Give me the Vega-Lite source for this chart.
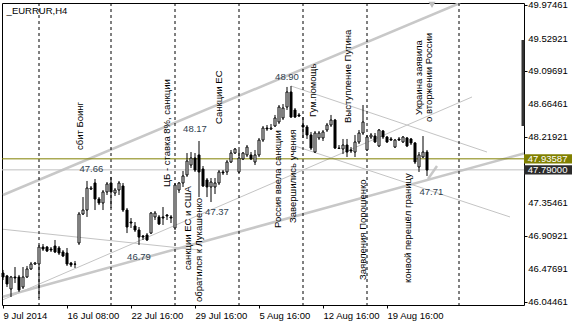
{
  "$schema": "https://vega.github.io/schema/vega-lite/v6.json",
  "width": 522,
  "height": 302,
  "autosize": {"type": "none"},
  "padding": {"left": 2, "top": 3, "right": 48, "bottom": 20},
  "background": "white",
  "config": {
    "view": {"stroke": "#000000", "strokeWidth": 1},
    "font": "Liberation Sans",
    "axis": {"grid": false, "domain": false, "tickColor": "#000000", "tickSize": 3, "labelColor": "#000000", "labelFont": "Liberation Sans", "labelFontSize": 9.5}
  },
  "datasets": {
    "candles": [
      {"i":0,"o":46.424,"h":46.464,"l":46.331,"c":46.371},
      {"i":1,"o":46.385,"h":46.398,"l":46.238,"c":46.278},
      {"i":2,"o":46.212,"h":46.385,"l":46.106,"c":46.371},
      {"i":3,"o":46.371,"h":46.503,"l":46.291,"c":46.358},
      {"i":4,"o":46.371,"h":46.398,"l":46.173,"c":46.199},
      {"i":5,"o":46.238,"h":46.503,"l":46.212,"c":46.371},
      {"i":6,"o":46.371,"h":46.517,"l":46.358,"c":46.477},
      {"i":7,"o":46.477,"h":46.570,"l":46.464,"c":46.543},
      {"i":8,"o":46.543,"h":46.570,"l":46.530,"c":46.556},
      {"i":9,"o":46.543,"h":46.795,"l":46.093,"c":46.768},
      {"i":10,"o":46.768,"h":46.808,"l":46.715,"c":46.741},
      {"i":11,"o":46.768,"h":46.781,"l":46.702,"c":46.715},
      {"i":12,"o":46.741,"h":46.768,"l":46.702,"c":46.728},
      {"i":13,"o":46.781,"h":46.861,"l":46.688,"c":46.702},
      {"i":14,"o":46.755,"h":46.781,"l":46.662,"c":46.688},
      {"i":15,"o":46.702,"h":46.728,"l":46.635,"c":46.649},
      {"i":16,"o":46.688,"h":46.755,"l":46.517,"c":46.543},
      {"i":17,"o":46.556,"h":46.570,"l":46.503,"c":46.530},
      {"i":18,"o":46.543,"h":46.583,"l":46.490,"c":46.540},
      {"i":19,"o":46.821,"h":47.232,"l":46.795,"c":47.205},
      {"i":20,"o":47.205,"h":47.430,"l":47.192,"c":47.258},
      {"i":21,"o":47.258,"h":47.643,"l":47.166,"c":47.549},
      {"i":22,"o":47.536,"h":47.576,"l":47.523,"c":47.549},
      {"i":23,"o":47.616,"h":47.669,"l":47.258,"c":47.404},
      {"i":24,"o":47.404,"h":47.430,"l":47.324,"c":47.351},
      {"i":25,"o":47.351,"h":47.523,"l":47.258,"c":47.497},
      {"i":26,"o":47.497,"h":47.629,"l":47.457,"c":47.603},
      {"i":27,"o":47.616,"h":47.696,"l":47.285,"c":47.497},
      {"i":28,"o":47.483,"h":47.549,"l":47.444,"c":47.523},
      {"i":29,"o":47.523,"h":47.643,"l":47.457,"c":47.616},
      {"i":30,"o":47.576,"h":47.616,"l":47.232,"c":47.258},
      {"i":31,"o":47.258,"h":47.285,"l":46.953,"c":47.033},
      {"i":32,"o":47.099,"h":47.152,"l":47.020,"c":47.086},
      {"i":33,"o":47.046,"h":47.099,"l":46.967,"c":46.993},
      {"i":34,"o":46.993,"h":47.033,"l":46.795,"c":46.900},
      {"i":35,"o":46.914,"h":46.927,"l":46.861,"c":46.900},
      {"i":36,"o":46.927,"h":46.953,"l":46.848,"c":46.861},
      {"i":37,"o":46.953,"h":47.232,"l":46.940,"c":47.218},
      {"i":38,"o":47.166,"h":47.245,"l":47.126,"c":47.218},
      {"i":39,"o":47.166,"h":47.192,"l":47.060,"c":47.073},
      {"i":40,"o":47.166,"h":47.298,"l":47.060,"c":47.152},
      {"i":41,"o":47.192,"h":47.205,"l":47.126,"c":47.179},
      {"i":42,"o":47.166,"h":47.192,"l":47.086,"c":47.152},
      {"i":43,"o":47.020,"h":47.616,"l":46.993,"c":47.589},
      {"i":44,"o":47.523,"h":47.629,"l":47.483,"c":47.616},
      {"i":45,"o":47.616,"h":47.775,"l":47.563,"c":47.709},
      {"i":46,"o":47.722,"h":48.013,"l":47.696,"c":47.907},
      {"i":47,"o":47.854,"h":48.026,"l":47.815,"c":47.947},
      {"i":48,"o":47.947,"h":48.013,"l":47.762,"c":47.788},
      {"i":49,"o":47.987,"h":48.172,"l":47.430,"c":47.762},
      {"i":50,"o":47.801,"h":47.841,"l":47.563,"c":47.576},
      {"i":51,"o":47.656,"h":47.682,"l":47.430,"c":47.563},
      {"i":52,"o":47.563,"h":47.682,"l":47.364,"c":47.629},
      {"i":53,"o":47.563,"h":47.682,"l":47.470,"c":47.616},
      {"i":54,"o":47.616,"h":47.788,"l":47.589,"c":47.762},
      {"i":55,"o":47.762,"h":47.788,"l":47.722,"c":47.749},
      {"i":56,"o":47.762,"h":47.920,"l":47.722,"c":47.894},
      {"i":57,"o":47.894,"h":48.053,"l":47.881,"c":48.013},
      {"i":58,"o":48.013,"h":48.079,"l":48.000,"c":48.066},
      {"i":59,"o":47.762,"h":48.053,"l":47.749,"c":47.947},
      {"i":60,"o":47.934,"h":48.026,"l":47.920,"c":48.013},
      {"i":61,"o":47.987,"h":48.119,"l":47.960,"c":48.092},
      {"i":62,"o":47.987,"h":48.026,"l":47.920,"c":47.934},
      {"i":63,"o":47.894,"h":48.053,"l":47.854,"c":47.987},
      {"i":64,"o":47.987,"h":48.212,"l":47.960,"c":48.185},
      {"i":65,"o":48.185,"h":48.371,"l":48.159,"c":48.344},
      {"i":66,"o":48.344,"h":48.384,"l":48.305,"c":48.331},
      {"i":67,"o":48.331,"h":48.397,"l":48.318,"c":48.344},
      {"i":68,"o":48.371,"h":48.517,"l":48.358,"c":48.477},
      {"i":69,"o":48.424,"h":48.649,"l":48.397,"c":48.622},
      {"i":70,"o":48.477,"h":48.662,"l":48.450,"c":48.609},
      {"i":71,"o":48.622,"h":48.888,"l":48.583,"c":48.821},
      {"i":72,"o":48.821,"h":48.901,"l":48.477,"c":48.490},
      {"i":73,"o":48.583,"h":48.609,"l":48.477,"c":48.490},
      {"i":74,"o":48.517,"h":48.543,"l":48.490,"c":48.503},
      {"i":75,"o":48.384,"h":48.490,"l":48.212,"c":48.358},
      {"i":76,"o":48.358,"h":48.384,"l":48.199,"c":48.252},
      {"i":77,"o":48.252,"h":48.292,"l":48.053,"c":48.079},
      {"i":78,"o":48.026,"h":48.305,"l":48.013,"c":48.278},
      {"i":79,"o":48.212,"h":48.305,"l":48.185,"c":48.278},
      {"i":80,"o":48.212,"h":48.318,"l":48.172,"c":48.292},
      {"i":81,"o":48.318,"h":48.411,"l":48.292,"c":48.384},
      {"i":82,"o":48.384,"h":48.517,"l":48.358,"c":48.450},
      {"i":83,"o":48.450,"h":48.464,"l":48.066,"c":48.079},
      {"i":84,"o":48.079,"h":48.119,"l":48.066,"c":48.073},
      {"i":85,"o":48.066,"h":48.199,"l":48.000,"c":48.119},
      {"i":86,"o":48.119,"h":48.199,"l":47.960,"c":48.026},
      {"i":87,"o":48.053,"h":48.092,"l":48.013,"c":48.040},
      {"i":88,"o":48.026,"h":48.252,"l":47.960,"c":48.159},
      {"i":89,"o":48.159,"h":48.318,"l":48.132,"c":48.278},
      {"i":90,"o":48.278,"h":48.649,"l":48.252,"c":48.424},
      {"i":91,"o":48.053,"h":48.252,"l":48.040,"c":48.225},
      {"i":92,"o":48.225,"h":48.278,"l":48.199,"c":48.252},
      {"i":93,"o":48.238,"h":48.278,"l":48.146,"c":48.159},
      {"i":94,"o":48.106,"h":48.331,"l":48.092,"c":48.318},
      {"i":95,"o":48.305,"h":48.318,"l":48.199,"c":48.225},
      {"i":96,"o":48.225,"h":48.238,"l":48.146,"c":48.159},
      {"i":97,"o":48.199,"h":48.225,"l":48.172,"c":48.185},
      {"i":98,"o":48.092,"h":48.199,"l":48.079,"c":48.185},
      {"i":99,"o":48.199,"h":48.225,"l":48.172,"c":48.185},
      {"i":100,"o":48.159,"h":48.238,"l":48.146,"c":48.225},
      {"i":101,"o":48.212,"h":48.225,"l":48.092,"c":48.106},
      {"i":102,"o":48.199,"h":48.212,"l":48.119,"c":48.146},
      {"i":103,"o":48.146,"h":48.159,"l":47.867,"c":47.894},
      {"i":104,"o":47.828,"h":48.026,"l":47.762,"c":47.987},
      {"i":105,"o":47.960,"h":48.238,"l":47.947,"c":48.026},
      {"i":106,"o":48.026,"h":48.053,"l":47.709,"c":47.788}
    ],
    "thick": [
      {"g":"u","i":0,"v":47.457},{"g":"u","i":114.25,"v":50.0},
      {"g":"d","i":0,"v":46.110},{"g":"d","i":130.25,"v":48.008},
      {"g":"a","i":108.5,"v":47.841},{"g":"a","i":106.25,"v":47.669}
    ],
    "thin": [
      {"g":"A","i":0,"v":47.003},{"g":"A","i":49.25,"v":46.728},
      {"g":"B","i":0,"v":46.070},{"g":"B","i":117.25,"v":48.755},
      {"g":"C","i":72,"v":48.901},{"g":"C","i":121,"v":48.026},
      {"g":"D","i":73,"v":48.106},{"g":"D","i":126.75,"v":47.166}
    ],
    "vtext": [
      {"i":19.25,"v":48.053,"t":"сбит Боинг"},
      {"i":41,"v":47.563,"t":"ЦБ - ставка 8%, санкции"},
      {"i":54,"v":48.397,"t":"Санкции ЕС"},
      {"i":77.4,"v":48.490,"t":"Гум.помощь"},
      {"i":86.2,"v":48.411,"t":"Выступление Путина"},
      {"i":104,"v":48.517,"t":"Украина заявила"},
      {"i":106.5,"v":48.424,"t":"о вторжении России"},
      {"i":46.25,"v":46.464,"t":"санкции ЕС и США"},
      {"i":68.75,"v":47.020,"t":"Россия ввела санкции"},
      {"i":72.5,"v":47.086,"t":"Завершились учения"},
      {"i":90,"v":46.331,"t":"Заявления Порошенко"},
      {"i":101.25,"v":46.291,"t":"конвой перешёл границу"}
    ],
    "plabels": [
      {"i":22.1,"v":47.801,"t":"47.66"},
      {"i":48,"v":48.331,"t":"48.17"},
      {"i":71,"v":49.020,"t":"48.90"},
      {"i":34,"v":46.636,"t":"46.79"},
      {"i":53.5,"v":47.232,"t":"47.37"},
      {"i":107.1,"v":47.497,"t":"47.71"}
    ],
    "ylabels": [
      {"i":131.3,"v":49.97461,"t":"49.97461"},
      {"i":131.3,"v":49.52921,"t":"49.52921"},
      {"i":131.3,"v":49.09691,"t":"49.09691"},
      {"i":131.3,"v":48.66461,"t":"48.66461"},
      {"i":131.3,"v":48.21921,"t":"48.21921"},
      {"i":131.3,"v":47.35461,"t":"47.35461"},
      {"i":131.3,"v":46.90921,"t":"46.90921"},
      {"i":131.3,"v":46.47691,"t":"46.47691"},
      {"i":131.3,"v":46.04461,"t":"46.04461"}
    ]
  },
  "layer": [
    {
      "data": {"name": "thick"},
      "mark": {"type": "line", "clip": true, "color": "#c8c8c8", "strokeWidth": 2.5},
      "encoding": {
        "x": {"field": "i", "type": "quantitative", "title": null,
              "scale": {"domain": [-0.25, 130.25], "nice": false, "zero": false, "padding": 0},
              "axis": {"orient": "bottom", "values": [0, 16, 32, 48, 64, 80, 96], "labelAlign": "left", "labelFlush": false, "labelOverlap": false, "labelBound": false, "labelPadding": 2, "labelBaseline": "top",
                       "labelExpr": "datum.value==0?'9 Jul 2014':datum.value==16?'16 Jul 08:00':datum.value==32?'22 Jul 16:00':datum.value==48?'29 Jul 16:00':datum.value==64?'5 Aug 16:00':datum.value==80?'12 Aug 16:00':'19 Aug 16:00'"}},
        "y": {"field": "v", "type": "quantitative", "title": null,
              "scale": {"domain": [46.0, 50.0], "nice": false, "zero": false, "padding": 0},
              "axis": {"orient": "right", "values": [49.97461, 49.52921, 49.09691, 48.66461, 48.21921, 47.35461, 46.90921, 46.47691, 46.04461], "labels": false}},
        "detail": {"field": "g"}
      }
    },
    {
      "data": {"name": "thin"},
      "mark": {"type": "line", "clip": true, "color": "#c4c4c4", "strokeWidth": 1},
      "encoding": {
        "x": {"field": "i", "type": "quantitative", "title": null},
        "y": {"field": "v", "type": "quantitative", "title": null},
        "detail": {"field": "g"}
      }
    },
    {
      "data": {"values": [{"i": 9}, {"i": 27}, {"i": 43}, {"i": 59}, {"i": 75}, {"i": 91}, {"i": 114}]},
      "mark": {"type": "rule", "color": "#000000", "strokeWidth": 1, "strokeDash": [3, 3]},
      "encoding": {"x": {"field": "i", "type": "quantitative", "title": null}}
    },
    {
      "data": {"values": [{"v": 47.93587}]},
      "mark": {"type": "rule", "color": "#808000", "strokeWidth": 1},
      "encoding": {"y": {"field": "v", "type": "quantitative", "title": null}}
    },
    {
      "data": {"values": [{"v": 47.79}]},
      "mark": {"type": "rule", "color": "#c0c0c0", "strokeWidth": 1},
      "encoding": {"y": {"field": "v", "type": "quantitative", "title": null}}
    },
    {
      "data": {"name": "candles"},
      "mark": {"type": "rule", "color": "#000000", "strokeWidth": 1},
      "encoding": {
        "x": {"field": "i", "type": "quantitative", "title": null},
        "y": {"field": "l", "type": "quantitative", "title": null},
        "y2": {"field": "h"}
      }
    },
    {
      "data": {"name": "candles"},
      "mark": {"type": "bar", "size": 2, "stroke": "#000000", "strokeWidth": 1},
      "encoding": {
        "x": {"field": "i", "type": "quantitative", "title": null},
        "y": {"field": "o", "type": "quantitative", "title": null},
        "y2": {"field": "c"},
        "fill": {"condition": {"test": "datum.c > datum.o", "value": "#ffffff"}, "value": "#000000"}
      }
    },
    {
      "data": {"values": [{"i": 107.25, "v": 49.975}]},
      "mark": {"type": "point", "shape": "triangle-down", "filled": true, "color": "#bdbdbd", "size": 50, "opacity": 1},
      "encoding": {
        "x": {"field": "i", "type": "quantitative", "title": null},
        "y": {"field": "v", "type": "quantitative", "title": null}
      }
    },
    {
      "data": {"name": "vtext"},
      "mark": {"type": "text", "angle": 270, "align": "left", "baseline": "middle", "font": "Liberation Sans", "fontSize": 9.5, "color": "#000000", "clip": true},
      "encoding": {
        "x": {"field": "i", "type": "quantitative", "title": null},
        "y": {"field": "v", "type": "quantitative", "title": null},
        "text": {"field": "t"}
      }
    },
    {
      "data": {"values": [{"i": 49, "v": 47.417, "t": "Порошенко обратился к Лукашенко"}]},
      "mark": {"type": "text", "angle": 270, "align": "right", "baseline": "middle", "font": "Liberation Sans", "fontSize": 9.5, "color": "#000000", "clip": true},
      "encoding": {
        "x": {"field": "i", "type": "quantitative", "title": null},
        "y": {"field": "v", "type": "quantitative", "title": null},
        "text": {"field": "t"}
      }
    },
    {
      "data": {"name": "plabels"},
      "mark": {"type": "text", "align": "center", "baseline": "middle", "font": "Liberation Sans", "fontSize": 9.5, "color": "#2f3f4f"},
      "encoding": {
        "x": {"field": "i", "type": "quantitative", "title": null},
        "y": {"field": "v", "type": "quantitative", "title": null},
        "text": {"field": "t"}
      }
    },
    {
      "data": {"values": [{"i": 0.9, "v": 49.90, "t": "_EURRUR,H4"}]},
      "mark": {"type": "text", "align": "left", "baseline": "middle", "font": "Liberation Sans", "fontSize": 9.5, "color": "#000000"},
      "encoding": {
        "x": {"field": "i", "type": "quantitative", "title": null},
        "y": {"field": "v", "type": "quantitative", "title": null},
        "text": {"field": "t"}
      }
    },
    {
      "data": {"values": [{"i": 130.0, "v": 49.51, "v2": 48.371}]},
      "mark": {"type": "rule", "color": "#333333", "strokeWidth": 3},
      "encoding": {
        "x": {"field": "i", "type": "quantitative", "title": null},
        "y": {"field": "v", "type": "quantitative", "title": null},
        "y2": {"field": "v2"}
      }
    },
    {
      "data": {"name": "ylabels"},
      "mark": {"type": "text", "align": "left", "baseline": "middle", "font": "Liberation Sans", "fontSize": 9.5, "color": "#000000"},
      "encoding": {
        "x": {"field": "i", "type": "quantitative", "title": null},
        "y": {"field": "v", "type": "quantitative", "title": null},
        "text": {"field": "t"}
      }
    },
    {
      "data": {"values": [
        {"i": 130.25, "i2": 142.5, "v": 47.874, "v2": 47.998, "k": "olive"},
        {"i": 130.25, "i2": 142.5, "v": 47.728, "v2": 47.852, "k": "dark"}
      ]},
      "mark": {"type": "rect"},
      "encoding": {
        "x": {"field": "i", "type": "quantitative", "title": null},
        "x2": {"field": "i2"},
        "y": {"field": "v", "type": "quantitative", "title": null},
        "y2": {"field": "v2"},
        "fill": {"field": "k", "type": "nominal", "legend": null, "scale": {"domain": ["olive", "dark"], "range": ["#808000", "#2b2b2b"]}}
      }
    },
    {
      "data": {"values": [
        {"i": 131.2, "v": 47.936, "t": "47.93587"},
        {"i": 131.2, "v": 47.790, "t": "47.79000"}
      ]},
      "mark": {"type": "text", "align": "left", "baseline": "middle", "font": "Liberation Sans", "fontSize": 9.5, "color": "#ffffff"},
      "encoding": {
        "x": {"field": "i", "type": "quantitative", "title": null},
        "y": {"field": "v", "type": "quantitative", "title": null},
        "text": {"field": "t"}
      }
    }
  ]
}
